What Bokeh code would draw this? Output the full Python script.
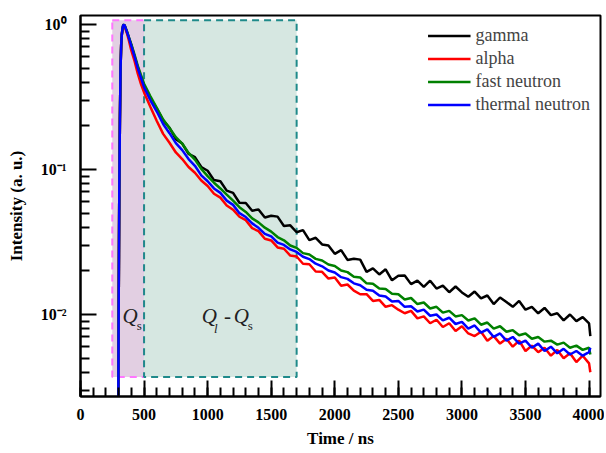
from bokeh.plotting import figure
from bokeh.models import (FixedTicker, SingleIntervalTicker, CustomJSTickFormatter,
                          Legend, LegendItem, Label)
from bokeh.embed import file_html
from bokeh.resources import INLINE

# ---------------- data ----------------
time_head = [296, 300, 305, 310, 315, 320, 325, 330, 335, 342, 350, 365, 380, 400, 425, 450, 475, 500]
time_tail = [550, 600, 650, 700, 750, 800, 850, 900, 950, 1000,
             1050, 1100, 1150, 1200, 1250, 1300, 1350, 1400, 1450, 1500,
             1550, 1600, 1650, 1700, 1750, 1800, 1850, 1900, 1950, 2000,
             2050, 2100, 2150, 2200, 2250, 2300, 2350, 2400, 2450, 2500,
             2550, 2600, 2650, 2700, 2750, 2800, 2850, 2900, 2950, 3000,
             3050, 3100, 3150, 3200, 3250, 3300, 3350, 3400, 3450, 3500,
             3550, 3600, 3650, 3700, 3750, 3800, 3850, 3900, 3950, 4000, 4010]

gamma_head = [0.001, 0.01, 0.07, 0.22, 0.5, 0.72, 0.85, 0.93, 0.98, 1.0, 0.97, 0.89, 0.81, 0.72, 0.60, 0.51, 0.43, 0.37]
gamma_tail = [0.31, 0.263, 0.218, 0.194, 0.162, 0.151, 0.128, 0.1215, 0.104, 0.098,
              0.0845, 0.083, 0.0715, 0.069, 0.059, 0.0588, 0.052, 0.053, 0.0466, 0.048,
              0.0473, 0.0408, 0.0412, 0.0369, 0.0382, 0.0326, 0.0338, 0.0304, 0.0299, 0.0262,
              0.0278, 0.0238, 0.0242, 0.0239, 0.0197, 0.0208, 0.0189, 0.0205, 0.0172, 0.0185,
              0.0186, 0.0162, 0.0171, 0.0155, 0.0171, 0.0151, 0.0158, 0.01425, 0.0156, 0.0142,
              0.01325, 0.0144, 0.0129, 0.01352, 0.0118, 0.0131, 0.0122, 0.0113, 0.0124, 0.0108,
              0.0113, 0.0102, 0.0111, 0.0099, 0.0102, 0.0091, 0.0100, 0.0090, 0.0096, 0.0087, 0.0071]

alpha_head = [0.001, 0.01, 0.07, 0.22, 0.5, 0.72, 0.85, 0.92, 0.97, 0.99, 0.95, 0.87, 0.78, 0.66, 0.56, 0.46, 0.39, 0.34]
alpha_tail = [0.27, 0.216, 0.176, 0.153, 0.131, 0.118, 0.104, 0.095, 0.084, 0.077,
              0.068, 0.064, 0.0565, 0.0528, 0.0472, 0.0447, 0.0394, 0.0376, 0.0333, 0.0324,
              0.0290, 0.0284, 0.0255, 0.0251, 0.0224, 0.0222, 0.0198, 0.0197, 0.0177, 0.0180,
              0.0158, 0.0161, 0.0146, 0.0138, 0.0138, 0.0124, 0.0126, 0.0113, 0.0116, 0.0108,
              0.0102, 0.0106, 0.0094, 0.0097, 0.0087, 0.0092, 0.0082, 0.0087, 0.0077, 0.0083,
              0.0074, 0.0071, 0.0076, 0.0066, 0.0071, 0.0063, 0.0068, 0.0060, 0.0066, 0.0056,
              0.0061, 0.0055, 0.0059, 0.0052, 0.0057, 0.0050, 0.0054, 0.0047, 0.0052, 0.0046, 0.0040]

fast_head = [0.001, 0.01, 0.07, 0.22, 0.5, 0.72, 0.85, 0.93, 0.98, 1.0, 0.97, 0.90, 0.82, 0.73, 0.62, 0.52, 0.45, 0.39]
fast_tail = [0.32, 0.266, 0.221, 0.193, 0.167, 0.151, 0.130, 0.117, 0.101, 0.090,
             0.081, 0.074, 0.067, 0.061, 0.055, 0.051, 0.046, 0.0432, 0.0397, 0.0373,
             0.0342, 0.0325, 0.0299, 0.0288, 0.0265, 0.0259, 0.0242, 0.0236, 0.0221, 0.0216,
             0.0201, 0.0196, 0.0182, 0.0180, 0.0164, 0.0163, 0.0151, 0.0150, 0.0139, 0.0138,
             0.0127, 0.0130, 0.0118, 0.0121, 0.0110, 0.0113, 0.0103, 0.0106, 0.0097, 0.0099,
             0.0091, 0.0094, 0.0085, 0.0088, 0.0080, 0.0083, 0.0076, 0.0078, 0.0072, 0.0074,
             0.0068, 0.0070, 0.0065, 0.0066, 0.0062, 0.0064, 0.0059, 0.0061, 0.0057, 0.0059, 0.0053]

thermal_head = [0.001, 0.01, 0.07, 0.22, 0.5, 0.72, 0.85, 0.93, 0.98, 1.0, 0.97, 0.89, 0.81, 0.71, 0.60, 0.50, 0.43, 0.37]
thermal_tail = [0.30, 0.251, 0.206, 0.178, 0.152, 0.136, 0.118, 0.106, 0.091, 0.083,
                0.074, 0.069, 0.061, 0.057, 0.050, 0.047, 0.0425, 0.0396, 0.0360, 0.0346,
                0.0313, 0.0302, 0.0281, 0.0270, 0.0250, 0.0241, 0.0224, 0.0215, 0.0201, 0.0195,
                0.0181, 0.0176, 0.0164, 0.0159, 0.0148, 0.0146, 0.0135, 0.0133, 0.0123, 0.0124,
                0.0113, 0.0114, 0.0105, 0.0108, 0.0098, 0.0100, 0.0091, 0.0095, 0.0086, 0.0089,
                0.0080, 0.0084, 0.0075, 0.0079, 0.0070, 0.0074, 0.0066, 0.0070, 0.0063, 0.0066,
                0.0059, 0.0063, 0.0056, 0.0060, 0.0054, 0.0058, 0.0053, 0.0056, 0.0052, 0.0055, 0.0059]

series_names = ["gamma", "alpha", "fast neutron", "thermal neutron"]
series_colors = ["#000000", "#ff0000", "#008000", "#0000ff"]

# integration windows (ns, intensity)
qs_window = [250, 500, 0.0037, 1.07]      # left, right, bottom, top
ql_window = [500, 1700, 0.0037, 1.07]

y_major = [0.01, 0.1, 1.0]
y_minor = [0.003, 0.004, 0.005, 0.006, 0.007, 0.008, 0.009,
           0.02, 0.03, 0.04, 0.05, 0.06, 0.07, 0.08, 0.09,
           0.2, 0.3, 0.4, 0.5, 0.6, 0.7, 0.8, 0.9]

# ---------------- figure ----------------
SERIF = "Liberation Serif"
p = figure(width=604, height=451, x_range=(0, 4090), y_range=(0.00272, 1.153),
           y_axis_type="log", output_backend="svg", toolbar_location=None)
p.min_border_left = 80
p.min_border_right = 4
p.min_border_top = 15
p.min_border_bottom = 55
p.background_fill_color = "white"
p.border_fill_color = "white"
p.outline_line_color = "black"
p.outline_line_width = 2
p.xgrid.visible = False
p.ygrid.visible = False

# shaded windows
p.quad(left=[qs_window[0]], right=[qs_window[1]], bottom=[qs_window[2]], top=[qs_window[3]],
       fill_color="#e2cfe2", line_color="#ff77ff", line_width=2, line_dash="7 5")
p.quad(left=[ql_window[0]], right=[ql_window[1]], bottom=[ql_window[2]], top=[ql_window[3]],
       fill_color="#d6e7e1", line_color="#1f8a8a", line_width=2, line_dash="7 5")

heads = [gamma_head, alpha_head, fast_head, thermal_head]
tails = [gamma_tail, alpha_tail, fast_tail, thermal_tail]
renderers = []
for name, col, h, t in zip(series_names, series_colors, heads, tails):
    r = p.line(time_head + time_tail, h + t, line_color=col, line_width=2.5)
    renderers.append(r)

legend = Legend(items=[LegendItem(label=n, renderers=[r]) for n, r in zip(series_names, renderers)],
                location="top_right")
legend.border_line_color = None
legend.background_fill_alpha = 0
legend.label_text_font = SERIF
legend.label_text_font_size = "18px"
legend.glyph_width = 43
legend.glyph_height = 21
legend.label_height = 21
legend.label_standoff = 5
legend.spacing = 2
legend.padding = 4
legend.margin = 10
p.add_layout(legend)

# Q labels
def qlabel(x, y, txt, size, style):
    p.add_layout(Label(x=x, y=y, text=txt, text_font=SERIF, text_font_size=size,
                       text_font_style=style, text_color="#222222",
                       text_align="left", text_baseline="alphabetic"))

qlabel(331, 0.0097, "Q", "21px", "italic")
qlabel(443, 0.0084, "s", "13px", "normal")
qlabel(953, 0.0097, "Q", "21px", "italic")
qlabel(1050, 0.0080, "l", "13px", "italic")
qlabel(1128, 0.0097, "-", "21px", "normal")
qlabel(1205, 0.0097, "Q", "21px", "italic")
qlabel(1316, 0.0084, "s", "13px", "normal")

# axes
xa = p.xaxis[0]
xa.ticker = SingleIntervalTicker(interval=500, num_minor_ticks=5)
xa.axis_label = "Time / ns"
ya = p.yaxis[0]
ya.ticker = FixedTicker(ticks=y_major, minor_ticks=y_minor)
ya.formatter = CustomJSTickFormatter(code="""
    const e = Math.round(Math.log10(tick));
    const sup = {'0':'\u2070','1':'\u00b9','2':'\u00b2','3':'\u00b3','-':'\u207b'};
    return '10' + String(e).split('').map(c => sup[c]).join('');
""")
ya.axis_label = "Intensity (a. u.)"
for ax in (xa, ya):
    ax.axis_line_width = 2
    ax.axis_line_color = "black"
    ax.major_tick_in = 16
    ax.major_tick_out = 0
    ax.minor_tick_in = 9
    ax.minor_tick_out = 0
    ax.major_tick_line_width = 2
    ax.minor_tick_line_width = 2
    ax.major_tick_line_color = "black"
    ax.minor_tick_line_color = "black"
    ax.major_label_text_font = SERIF
    ax.major_label_text_font_style = "bold"
    ax.major_label_text_font_size = "16px"
    ax.major_label_text_color = "black"
    ax.axis_label_text_font = SERIF
    ax.axis_label_text_font_style = "bold"
    ax.axis_label_text_font_size = "17px"
    ax.axis_label_text_color = "black"
xa.major_label_standoff = 12
xa.axis_label_standoff = 6
ya.major_label_standoff = 14
ya.axis_label_standoff = 12

open("out.html", "w").write(file_html(p, INLINE))
